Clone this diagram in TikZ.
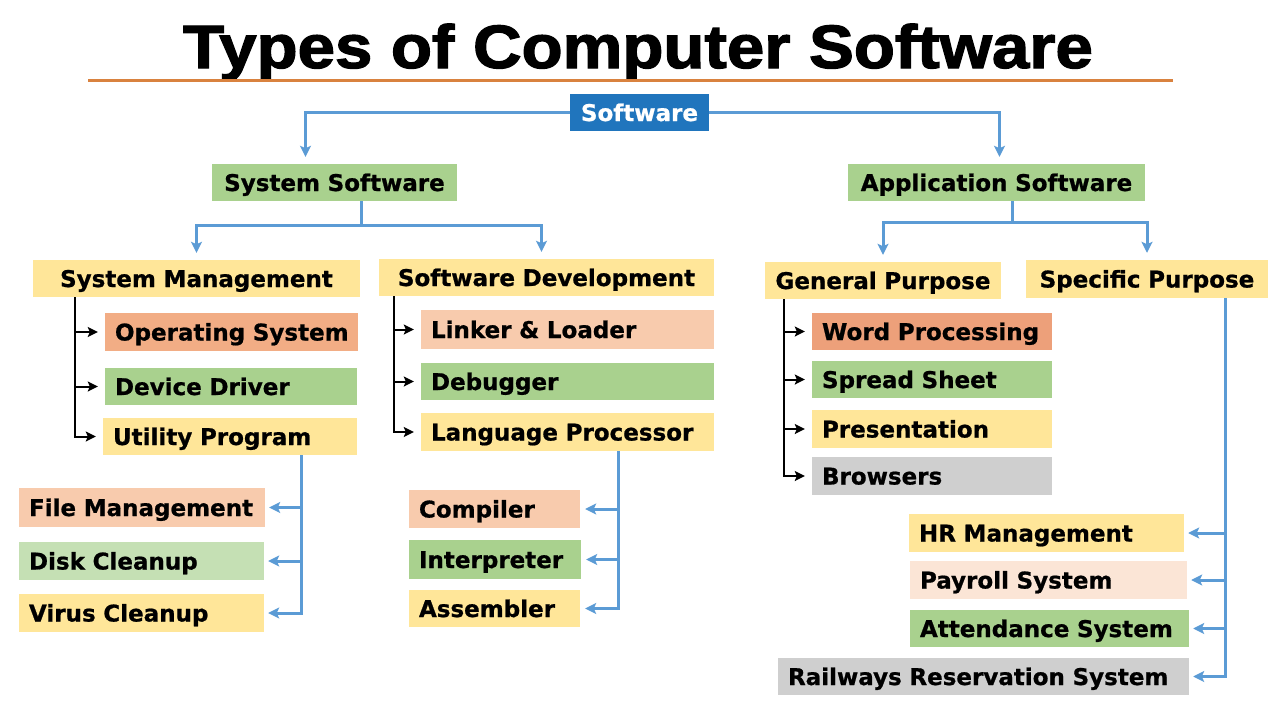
\documentclass[tikz,border=0pt]{standalone}
\usepackage{fontspec}
\usetikzlibrary{arrows.meta}
\newfontfamily\titlefont{Liberation Sans}[BoldFeatures={FakeBold=2}]
\newfontfamily\boxfont{DejaVu Sans}[BoldFeatures={FakeBold=0.8}]
\definecolor{softblue}{HTML}{2075BD}
\definecolor{lineblue}{HTML}{5B9BD5}
\definecolor{rulecol}{HTML}{D9823F}
\definecolor{green1}{HTML}{A9D18E}
\definecolor{green2}{HTML}{C5E0B4}
\definecolor{yellow1}{HTML}{FFE699}
\definecolor{salmon1}{HTML}{F2AD85}
\definecolor{salmon2}{HTML}{F8CBAD}
\definecolor{salmon3}{HTML}{EDA07A}
\definecolor{peach}{HTML}{FBE5D6}
\definecolor{grey1}{HTML}{CFCFCF}
\tikzset{
  tbox/.style={inner xsep=10pt, inner ysep=0pt, text height=17pt, text depth=0pt,
    font=\boxfont\bfseries\fontsize{23}{23}\selectfont, align=left},
  head/.style={align=center},
  bline/.style={draw=lineblue, line width=3pt, -{Stealth[length=11pt,width=11pt,inset=2.5pt]}},
  kline/.style={draw=black, line width=2pt, -{Stealth[length=10pt,width=10pt,inset=2pt]}, shorten >=7pt},
}
% box from (x1,y1) to (x2,y2) in pixels
\newcommand\tbox[7]{%
  \pgfmathsetmacro\bw{#5-#3}\pgfmathsetmacro\bh{#6-#4}\pgfmathsetmacro\tw{#5-#3-20}%
  \node[tbox, #1, minimum width=\bw pt, minimum height=\bh pt, text width=\tw pt]
    (#2) at ({(#3+#5)/2},{(#4+#6)/2}) {\mbox{#7}};}
\begin{document}
\begin{tikzpicture}[x=1pt,y=-1pt]
    % canvas
    \fill[white] (0,0) rectangle (1280,720);
    \useasboundingbox (0,0) rectangle (1280,720);

    % title
    \node[font=\titlefont\bfseries\fontsize{60}{60}\selectfont, anchor=base] (title) at (638,68)
      {\scalebox{1.12}[1.02]{Types of Computer Software}};
    \draw[rulecol, line width=3pt] (88,80) -- (1173,80);

    % top levels
    \tbox{fill=softblue, text=white, head}{soft}{570}{94}{709}{131}{Software}
    \tbox{fill=green1, head}{sys}{212}{164}{457}{201}{System Software}
    \tbox{fill=green1, head}{app}{848}{164}{1145}{201}{Application Software}
    \tbox{fill=yellow1, head}{mgmt}{33}{260}{360}{297}{System Management}
    \tbox{fill=yellow1, head}{dev}{379}{259}{714}{296}{Software Development}
    \tbox{fill=yellow1, head}{gen}{765}{262}{1001}{299}{General Purpose}
    \tbox{fill=yellow1, head}{spec}{1026}{260}{1268}{298}{Specific Purpose}

    % system management
    \tbox{fill=salmon1}{os}{105}{313}{358}{351}{Operating System}
    \tbox{fill=green1}{dd}{105}{368}{357}{405}{Device Driver}
    \tbox{fill=yellow1}{up}{103}{418}{357}{455}{Utility Program}
    \tbox{fill=salmon2}{fm}{19}{488}{265}{527}{File Management}
    \tbox{fill=green2}{dc}{19}{542}{264}{580}{Disk Cleanup}
    \tbox{fill=yellow1}{vc}{19}{594}{264}{632}{Virus Cleanup}

    % software development
    \tbox{fill=salmon2}{ll}{421}{310}{714}{349}{Linker \& Loader}
    \tbox{fill=green1}{dbg}{421}{363}{714}{400}{Debugger}
    \tbox{fill=yellow1}{lp}{421}{413}{714}{451}{Language Processor}
    \tbox{fill=salmon2}{cmp}{409}{490}{580}{528}{Compiler}
    \tbox{fill=green1}{int}{409}{540}{581}{579}{Interpreter}
    \tbox{fill=yellow1}{asm}{409}{590}{580}{627}{Assembler}

    % general purpose
    \tbox{fill=salmon3}{wp}{812}{313}{1052}{350}{Word Processing}
    \tbox{fill=green1}{ss}{812}{361}{1052}{398}{Spread Sheet}
    \tbox{fill=yellow1}{pr}{812}{410}{1052}{448}{Presentation}
    \tbox{fill=grey1}{br}{812}{457}{1052}{495}{Browsers}

    % specific purpose
    \tbox{fill=yellow1}{hr}{909}{514}{1184}{552}{HR Management}
    \tbox{fill=peach}{pay}{910}{561}{1187}{599}{Payroll System}
    \tbox{fill=green1}{att}{910}{610}{1189}{647}{Attendance System}
    \tbox{fill=grey1}{rail}{778}{658}{1189}{695}{Railways Reservation System}

    % blue branches
    \draw[bline, shorten >=7pt] (soft.west) -| ([xshift=-29]sys.north);
    \draw[bline, shorten >=7pt] (soft.east) -| ([xshift=3]app.north);
    \draw[bline, -] ([xshift=27]sys.south) -- ++(0,24) coordinate (sysj);
    \draw[bline, shorten >=7pt] (sysj) -| (mgmt.north);
    \draw[bline, shorten >=7pt] (sysj) -| ([xshift=-5]dev.north);
    \draw[bline, -] ([xshift=16]app.south) -- ++(0,21) coordinate (appj);
    \draw[bline, shorten >=7pt] (appj) -| (gen.north);
    \draw[bline, shorten >=7pt] (appj) -| (spec.north);

    % black brackets
    \foreach \c in {os,dd,up} \draw[kline] ([xshift=42]mgmt.south west) |- (\c.west);
    \foreach \c in {ll,dbg,lp} \draw[kline] ([xshift=15]dev.south west) |- (\c.west);
    \foreach \c in {wp,ss,pr,br} \draw[kline] ([xshift=19]gen.south west) |- (\c.west);

    % blue brackets
    \foreach \c in {fm,dc,vc} \draw[bline, shorten >=4pt] ([xshift=199]up.south west) |- (\c.east);
    \foreach \c in {cmp,int,asm} \draw[bline, shorten >=5pt] ([xshift=198]lp.south west) |- (\c.east);
    \foreach \c in {hr,pay,att,rail} \draw[bline, shorten >=4pt] ([xshift=200]spec.south west) |- (\c.east);

\end{tikzpicture}
\end{document}
